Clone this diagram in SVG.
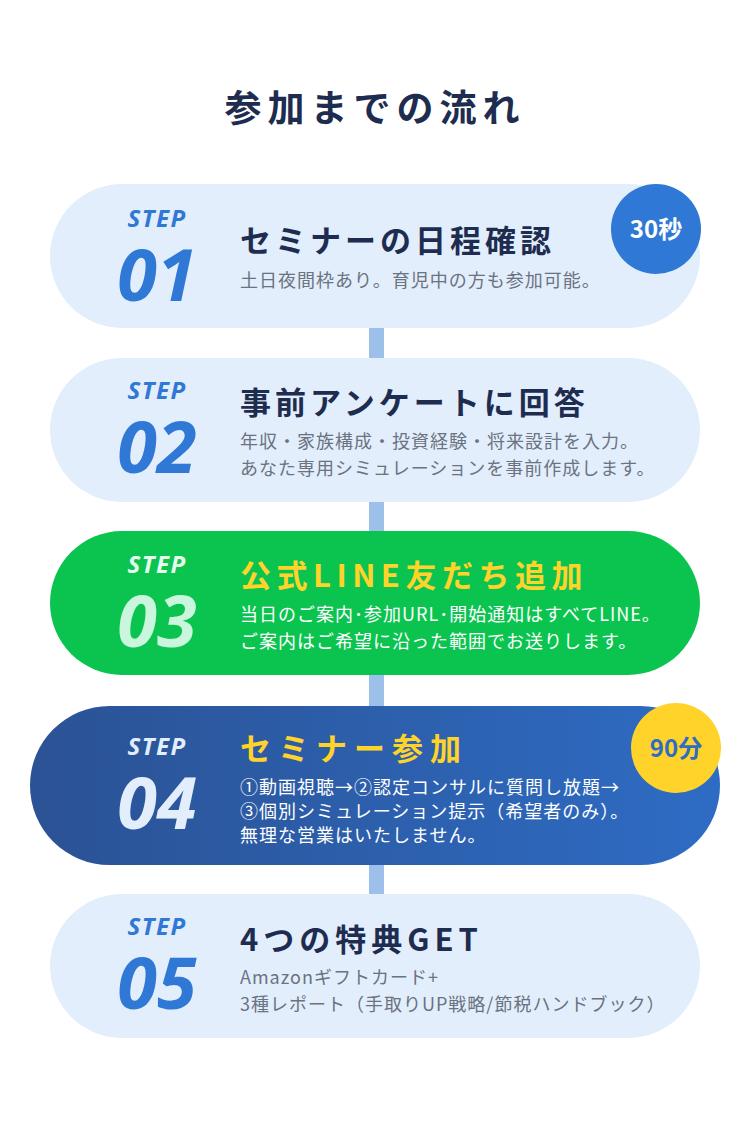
<svg xmlns="http://www.w3.org/2000/svg" width="750" height="1138" viewBox="0 0 750 1138">
<defs>
<linearGradient id="g4" x1="0" y1="0" x2="1" y2="0"><stop offset="0" stop-color="#2b5294"/><stop offset="1" stop-color="#2e6cc4"/></linearGradient>
<style>
text{font-family:"Noto Sans CJK JP","Noto Sans",sans-serif}
.step{font-family:"Noto Sans",sans-serif;font-style:italic;font-weight:700;font-size:24px;text-anchor:middle;letter-spacing:1.5px}
.num{font-family:"Noto Sans",sans-serif;font-style:italic;font-weight:700;font-size:72px;text-anchor:middle}
.t{font-weight:700;font-size:31px;letter-spacing:4px}
.d{font-size:18px;letter-spacing:1px}
</style>
</defs>
<rect width="750" height="1138" fill="#fff"/>
<text x="375" y="122" text-anchor="middle" font-size="37" font-weight="700" fill="#1e2d4f" letter-spacing="6">参加までの流れ</text>
<g id="connectors" fill="#9dc0ea">
<rect x="369" y="326" width="15" height="34"/>
<rect x="369" y="500" width="15" height="33"/>
<rect x="369" y="673" width="15" height="35"/>
<rect x="369" y="863" width="15" height="33"/>
</g>
<g id="step1">
<rect x="50" y="184" width="650" height="144" rx="72" fill="#e2eefc"/>
<text class="step" x="157" y="227" fill="#2f78d6">STEP</text>
<text class="num" x="157" y="301" fill="#2f78d6">01</text>
<text class="t" x="240" y="252" fill="#1e2d4f">セミナーの日程確認</text>
<text class="d" x="240" y="287" fill="#6b7280">土日夜間枠あり。育児中の方も参加可能。</text>
<circle cx="656" cy="229" r="45" fill="#2f78d6"/>
<text x="656" y="238" text-anchor="middle" font-size="24" font-weight="700" fill="#fff">30秒</text>
</g>
<g id="step2">
<rect x="50" y="358" width="650" height="144" rx="72" fill="#e2eefc"/>
<text class="step" x="157" y="399" fill="#2f78d6">STEP</text>
<text class="num" x="157" y="473" fill="#2f78d6">02</text>
<text class="t" x="240" y="414" fill="#1e2d4f">事前アンケートに回答</text>
<text class="d" x="240" y="448" fill="#6b7280">年収・家族構成・投資経験・将来設計を入力。</text>
<text class="d" x="240" y="475" fill="#6b7280">あなた専用シミュレーションを事前作成します。</text>
</g>
<g id="step3">
<rect x="50" y="531" width="650" height="144" rx="72" fill="#0bc450"/>
<text class="step" x="157" y="573" fill="#e8fbef">STEP</text>
<text class="num" x="157" y="647" fill="#c9f6dc">03</text>
<text class="t" x="240" y="587" fill="#ffd32a" style="letter-spacing:5.5px">公式LINE友だち追加</text>
<text class="d" x="240" y="621" fill="#fff">当日のご案内･参加URL･開始通知はすべてLINE。</text>
<text class="d" x="240" y="648" fill="#fff">ご案内はご希望に沿った範囲でお送りします。</text>
</g>
<g id="step4">
<rect x="30" y="706" width="690" height="159" rx="79.5" fill="url(#g4)"/>
<text class="step" x="157" y="755" fill="#e2eefc">STEP</text>
<text class="num" x="157" y="829" fill="#e2eefc">04</text>
<text class="t" x="240" y="760" fill="#ffd32a" style="letter-spacing:7px">セミナー参加</text>
<text class="d" x="240" y="794" fill="#fff">①動画視聴→②認定コンサルに質問し放題→</text>
<text class="d" x="240" y="818" fill="#fff">③個別シミュレーション提示（希望者のみ）。</text>
<text class="d" x="240" y="842" fill="#fff">無理な営業はいたしません。</text>
<circle cx="676" cy="748" r="45" fill="#ffd32a"/>
<text x="676" y="757" text-anchor="middle" font-size="24" font-weight="700" fill="#2f6cc4">90分</text>
</g>
<g id="step5">
<rect x="50" y="894" width="650" height="144" rx="72" fill="#e2eefc"/>
<text class="step" x="157" y="935" fill="#2f78d6">STEP</text>
<text class="num" x="157" y="1009" fill="#2f78d6">05</text>
<text class="t" x="240" y="951" fill="#1e2d4f" style="letter-spacing:5px">4つの特典GET</text>
<text class="d" x="240" y="984" fill="#6b7280">Amazonギフトカード+</text>
<text class="d" x="240" y="1011" fill="#6b7280">3種レポート（手取りUP戦略/節税ハンドブック）</text>
</g>
</svg>
